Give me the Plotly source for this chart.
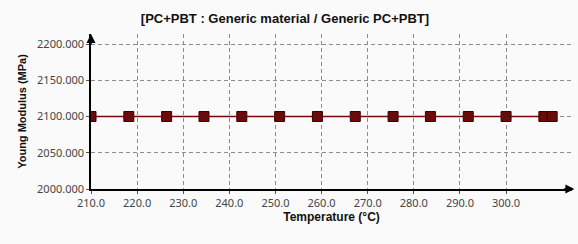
import plotly.graph_objects as go

temperature = [210.0, 218.2, 226.4, 234.5, 242.7, 250.9, 259.1, 267.3, 275.5, 283.6, 291.8, 300.0, 308.2, 310.0]
young_modulus = [2100.0] * len(temperature)
x_ticks = [210, 220, 230, 240, 250, 260, 270, 280, 290, 300]
y_ticks = [2000, 2050, 2100, 2150, 2200]

fig = go.Figure()
fig.add_trace(go.Scatter(
    x=temperature, y=young_modulus, mode="lines+markers",
    line=dict(color="#7a0606", width=1.3),
    marker=dict(symbol="square", size=10, color="#6a0a0a", line=dict(color="#3a0000", width=1)),
    cliponaxis=True, showlegend=False,
))

tick_font = dict(family="Noto Sans, Open Sans, sans-serif", size=11, color="#444444")
fig.update_layout(
    width=578, height=244,
    margin=dict(l=91, r=6, t=34, b=55),
    paper_bgcolor="#fafafa", plot_bgcolor="#fafafa",
    title=dict(text="<b>[PC+PBT : Generic material / Generic PC+PBT]</b>",
               x=0.493, xanchor="center", y=0.925, yanchor="middle",
               font=dict(family="Liberation Sans, Arial, sans-serif", size=13, color="#111111")),
    xaxis=dict(
        range=[210, 314.3], tickvals=x_ticks, ticktext=[f"{v:.1f}" for v in x_ticks],
        showgrid=True, gridcolor="#8c8c8c", griddash="4px,3px", gridwidth=1,
        showline=True, linecolor="black", linewidth=1.5, zeroline=False,
        ticks="outside", ticklen=3, tickcolor="#555555", tickfont=tick_font,
        title=dict(text="<b>Temperature (°C)</b>", standoff=4,
                   font=dict(family="Liberation Sans, Arial, sans-serif", size=12, color="#111111")),
    ),
    yaxis=dict(
        range=[2000, 2213.8], tickvals=y_ticks, ticktext=[f"{v:.3f}" for v in y_ticks],
        showgrid=True, gridcolor="#8c8c8c", griddash="4px,3px", gridwidth=1,
        showline=True, linecolor="black", linewidth=1.5, zeroline=False,
        ticks="outside", ticklen=3, tickcolor="#555555", tickfont=tick_font,
        title=dict(text="<b>Young Modulus (MPa)</b>", standoff=8,
                   font=dict(family="Liberation Sans, Arial, sans-serif", size=11, color="#111111")),
    ),
    annotations=[
        dict(xref="paper", yref="paper", x=0, y=1, ax=0, ay=12, text="", showarrow=True,
             arrowhead=2, arrowsize=1.2, arrowwidth=1.5, arrowcolor="black"),
        dict(xref="paper", yref="paper", x=1.005, y=0, ax=-12, ay=0, text="", showarrow=True,
             arrowhead=2, arrowsize=1.2, arrowwidth=1.5, arrowcolor="black"),
    ],
)

fig.write_html("out.html")
